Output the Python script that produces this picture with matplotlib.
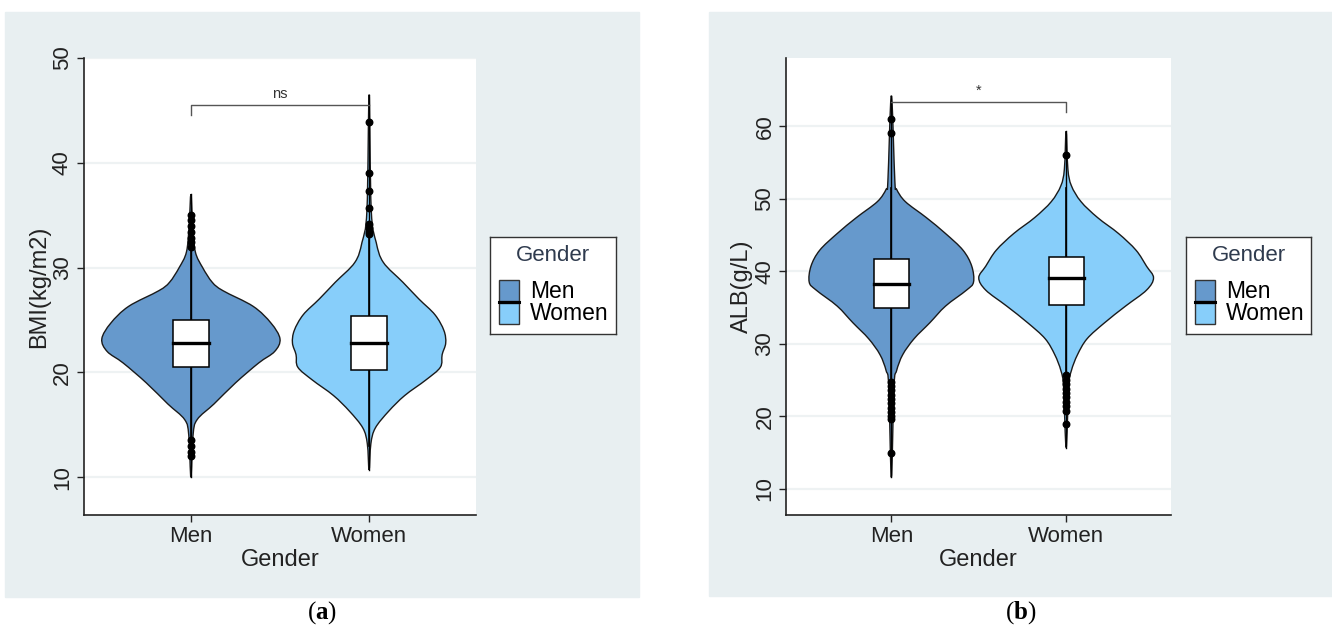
import numpy as np
import matplotlib
matplotlib.use("Agg")
import matplotlib.pyplot as plt
from matplotlib.path import Path
from matplotlib.patches import PathPatch, Rectangle

plt.rcParams['font.family'] = ['Liberation Sans', 'DejaVu Sans']
plt.rcParams['mathtext.fontset'] = 'custom'
plt.rcParams['mathtext.rm'] = 'Liberation Serif'
plt.rcParams['mathtext.bf'] = 'Liberation Serif:bold'

groups = ['Men', 'Women']
colors = ['#6699CC', '#87CEFA']
panel_bg = '#E8EFF1'

# ---- BMI panel ----
bmi_levels = [
    [10.0, 14.0, 15.5, 17.0, 19.0, 20.9, 22.0, 23.2, 24.7, 26.3, 27.8, 28.6, 30.0, 31.5, 34.0, 37.0],
    [10.7, 13.2, 14.7, 16.3, 17.8, 19.3, 20.5, 21.7, 22.8, 24.0, 25.5, 27.0, 28.6, 30.5, 32.4, 35.5, 46.5],
]
bmi_widths = [
    [0.0, 0.012, 0.035, 0.13, 0.25, 0.38, 0.47, 0.50, 0.45, 0.35, 0.18, 0.12, 0.066, 0.025, 0.01, 0.0],
    [0.0, 0.01, 0.035, 0.11, 0.20, 0.32, 0.40, 0.41, 0.43, 0.42, 0.37, 0.28, 0.19, 0.08, 0.04, 0.012, 0.0],
]
bmi_box = [(20.5, 22.8, 25.0), (20.2, 22.8, 25.4)]      # q1, median, q3
bmi_whisk = [(13.8, 31.8), (13.0, 33.0)]
bmi_out = [
    [35.0, 34.5, 34.0, 33.4, 32.8, 32.4, 32.0, 13.6, 13.0, 12.4, 12.0],
    [43.9, 39.0, 37.3, 35.7, 34.2, 33.8, 33.4, 33.2],
]

# ---- ALB panel ----
alb_levels = [
    [11.6, 24.1, 26.3, 28.5, 30.7, 32.9, 35.2, 37.4, 38.5, 40.7, 42.9, 45.2, 47.4, 49.6, 51.3, 52.4, 64.2],
    [15.7, 24.1, 26.3, 28.5, 30.7, 32.9, 35.2, 37.4, 39.1, 40.7, 42.9, 45.2, 47.4, 49.6, 51.8, 54.1, 59.3],
]
alb_widths = [
    [0.0, 0.015, 0.03, 0.065, 0.13, 0.22, 0.31, 0.43, 0.47, 0.46, 0.41, 0.31, 0.20, 0.08, 0.03, 0.02, 0.0],
    [0.0, 0.015, 0.03, 0.065, 0.12, 0.22, 0.34, 0.46, 0.50, 0.46, 0.40, 0.30, 0.18, 0.085, 0.03, 0.01, 0.0],
]
alb_box = [(35.0, 38.3, 41.7), (35.4, 39.05, 42.0)]
alb_whisk = [(25.0, 51.5), (25.8, 51.5)]
alb_out = [
    [61.0, 59.1, 24.8, 24.2, 23.6, 23.0, 22.4, 21.8, 21.2, 20.6, 20.0, 19.6, 14.9],
    [56.0, 25.7, 25.0, 24.4, 23.8, 23.2, 22.6, 22.0, 21.4, 20.7, 19.0],
]


def smooth_outline(xs, ys):
    # closed Catmull-Rom curve through the outline points, drawn as Bezier segments
    p = np.column_stack([xs, ys])
    n = len(p)
    verts = [p[0]]
    codes = [Path.MOVETO]
    for i in range(n):
        p0, p1, p2, p3 = p[i - 1], p[i], p[(i + 1) % n], p[(i + 2) % n]
        verts += [p1 + (p2 - p0) / 6, p2 - (p3 - p1) / 6, p2]
        codes += [Path.CURVE4] * 3
    return Path(verts, codes)


def draw_panel(fig, rect, bg_rect, levels, widths, boxes, whisk, outs,
               ylim, yticks, ylabel, bracket, sig, letter, leg_rect):
    fig.patches.append(Rectangle(bg_rect[:2], bg_rect[2], bg_rect[3],
                                 transform=fig.transFigure, color=panel_bg, zorder=-5))
    ax = fig.add_axes(rect)
    ax.set_facecolor('white')
    for t in yticks:
        ax.axhline(t, color='#EEF2F3', lw=1.6, zorder=0)
    for i, g in enumerate(groups):
        lv = np.array(levels[i])
        w = np.array(widths[i])
        xs = np.concatenate([i + w, (i - w)[::-1][1:-1]])
        ys = np.concatenate([lv, lv[::-1][1:-1]])
        ax.add_patch(PathPatch(smooth_outline(xs, ys), facecolor=colors[i],
                               edgecolor='#1a1a1a', lw=1.0, zorder=2))
        q1, med, q3 = boxes[i]
        lo, hi = whisk[i]
        ax.plot([i, i], [lo, q1], color='black', lw=1.2, zorder=3)
        ax.plot([i, i], [q3, hi], color='black', lw=1.2, zorder=3)
        ax.plot([i, i], [lv[0], lv[-1]], color='black', lw=1.0, zorder=3)
        ax.add_patch(Rectangle((i - 0.1, q1), 0.2, q3 - q1, facecolor='white',
                               edgecolor='black', lw=1.1, zorder=4))
        ax.plot([i - 0.1, i + 0.1], [med, med], color='black', lw=2.4, zorder=5)
        ax.scatter([i] * len(outs[i]), outs[i], s=22, color='black', zorder=5)

    # significance bracket
    by, tick_l, tick_r = bracket
    ax.plot([0, 0, 1, 1], [tick_l, by, by, tick_r], color='#555555', lw=1.0, zorder=6)
    ax.text(0.5, by + (ylim[1] - ylim[0]) * 0.008, sig, ha='center', va='bottom',
            fontsize=10.5, color='#333333')

    ax.set_xlim(-0.6, 1.6)
    ax.set_ylim(*ylim)
    ax.set_xticks([0, 1])
    ax.set_xticklabels(groups)
    ax.set_yticks(yticks)
    ax.set_yticklabels([str(t) for t in yticks], rotation=90, va='center')
    ax.tick_params(labelsize=16, length=5, width=1, colors='#222222', pad=3)
    ax.set_xlabel('Gender', fontsize=17, labelpad=1, color='#222222')
    ax.set_ylabel(ylabel, fontsize=17, labelpad=1, color='#222222')
    for s in ['top', 'right']:
        ax.spines[s].set_visible(False)
    for s in ['left', 'bottom']:
        ax.spines[s].set_color('#222222')
        ax.spines[s].set_linewidth(1.2)

    # legend box
    lg = fig.add_axes(leg_rect)
    lg.set_xlim(0, 1)
    lg.set_ylim(0, 1)
    lg.set_xticks([])
    lg.set_yticks([])
    for s in lg.spines.values():
        s.set_color('#333333')
        s.set_linewidth(1.0)
    lg.text(0.5, 0.81, 'Gender', ha='center', va='center', fontsize=16, color='#2F3B4E')
    lg.add_patch(Rectangle((0.07, 0.34), 0.16, 0.22, facecolor=colors[0], edgecolor='#333333', lw=1))
    lg.add_patch(Rectangle((0.07, 0.10), 0.16, 0.22, facecolor=colors[1], edgecolor='#333333', lw=1))
    lg.plot([0.07, 0.23], [0.33, 0.33], color='black', lw=2.2)
    lg.text(0.32, 0.44, groups[0], ha='left', va='center', fontsize=16.5, color='black')
    lg.text(0.32, 0.21, groups[1], ha='left', va='center', fontsize=16.5, color='black')

    fig.text(bg_rect[0] + bg_rect[2] / 2, 0.027, letter, ha='center', va='center', fontsize=18)
    return ax


fig = plt.figure(figsize=(13.32, 6.3), dpi=100)
fig.patch.set_facecolor('white')

W, H = 1332, 630
draw_panel(fig, [84 / W, 115 / H, 392 / W, 457 / H], [5 / W, 33 / H, 634 / W, 585 / H],
           bmi_levels, bmi_widths, bmi_box, bmi_whisk, bmi_out,
           (6.4, 50.0), [10, 20, 30, 40, 50], 'BMI(kg/m2)',
           (45.55, 44.6, 45.55), 'ns', r'$\mathrm{(}\mathbf{a}\mathrm{)}$',
           [490 / W, 296 / H, 126 / W, 97 / H])
draw_panel(fig, [786.5 / W, 115 / H, 384.5 / W, 457 / H], [709 / W, 34 / H, 623 / W, 584 / H],
           alb_levels, alb_widths, alb_box, alb_whisk, alb_out,
           (6.4, 69.4), [10, 20, 30, 40, 50, 60], 'ALB(g/L)',
           (63.4, 63.4, 61.9), '*', r'$\mathrm{(}\mathbf{b}\mathrm{)}$',
           [1186 / W, 296 / H, 125 / W, 97 / H])

fig.savefig('out.png', dpi=100)
